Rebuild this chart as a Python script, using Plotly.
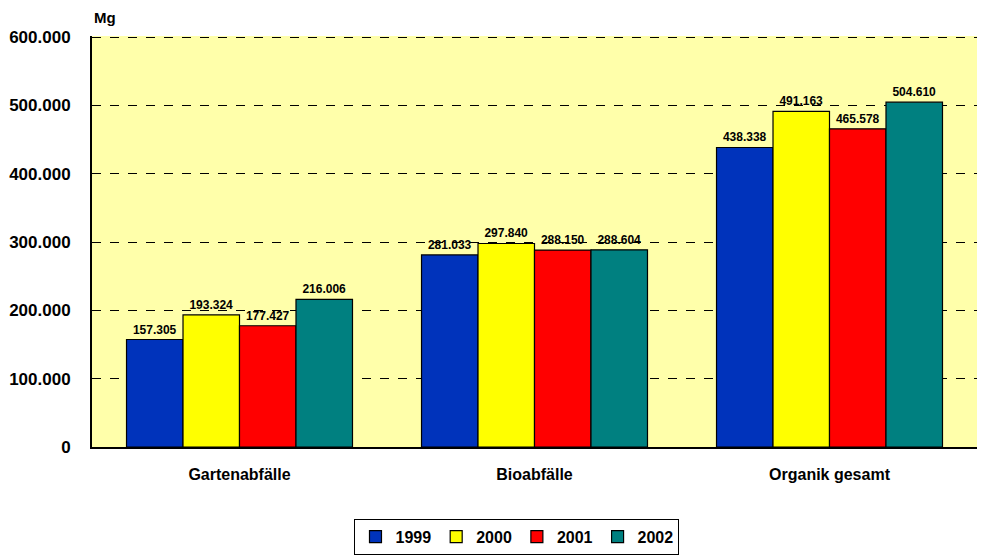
import plotly.graph_objects as go

categories = ["Gartenabfälle", "Bioabfälle", "Organik gesamt"]
years = ["1999", "2000", "2001", "2002"]
values_1999 = [157305, 281033, 438338]
values_2000 = [193324, 297840, 491163]
values_2001 = [177427, 288150, 465578]
values_2002 = [216006, 288604, 504610]
colors = ["#0033BB", "#FFFF00", "#FF0000", "#008080"]

series = [values_1999, values_2000, values_2001, values_2002]
FONT = "Liberation Sans, Arial, sans-serif"

fig = go.Figure()
for name, vals, col in zip(years, series, colors):
    fig.add_trace(go.Bar(
        x=categories, y=vals, name=name,
        marker=dict(color=col, line=dict(color="black", width=1.2)),
        texttemplate="%{y:,d}", textposition="outside",
        textfont=dict(family=FONT, size=12, color="black", weight="bold"),
        cliponaxis=False,
    ))

fig.update_layout(
    width=981, height=557,
    margin=dict(l=92, r=4, t=36, b=110, autoexpand=False),
    paper_bgcolor="white", plot_bgcolor="#FFFFAA",
    separators=",.",
    barmode="group", bargap=0.234, bargroupgap=0,
    font=dict(family=FONT, color="black"),
    showlegend=True,
    legend=dict(orientation="h", x=0.527, xref="container", xanchor="center",
                y=0.004, yref="container", yanchor="bottom",
                bordercolor="black", borderwidth=1, bgcolor="white",
                font=dict(family=FONT, size=16, weight="bold"),
                itemwidth=30, tracegroupgap=0),
    xaxis=dict(showline=True, linecolor="black", linewidth=2, ticks="",
               ticklabelstandoff=12,
               tickfont=dict(family=FONT, size=16, weight="bold"), showgrid=False),
    yaxis=dict(range=[0, 601500], tickvals=[0, 100000, 200000, 300000, 400000, 500000, 600000],
               tickformat=",d",
               showline=True, linecolor="black", linewidth=2,
               showgrid=True, gridcolor="black", griddash="dash", gridwidth=1,
               zeroline=False, ticks="", ticklen=0, ticklabelstandoff=16,
               tickfont=dict(family=FONT, size=17, weight="bold")),
    annotations=[dict(text="Mg", xref="paper", yref="paper", x=0, y=1.02,
                      xanchor="left", yanchor="bottom", showarrow=False,
                      font=dict(family=FONT, size=15, weight="bold"))],
)

fig.write_html("out.html")
